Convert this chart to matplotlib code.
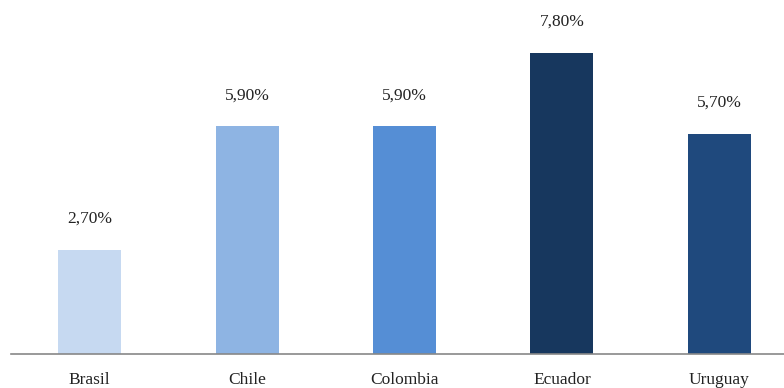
import matplotlib
matplotlib.use("Agg")
import matplotlib.pyplot as plt

countries = ["Brasil", "Chile", "Colombia", "Ecuador", "Uruguay"]
rates = [2.7, 5.9, 5.9, 7.8, 5.7]
labels = ["2,70%", "5,90%", "5,90%", "7,80%", "5,70%"]
colors = ["#c6d9f1", "#8eb4e3", "#558ed5", "#17375e", "#1f497d"]

plt.rcParams["font.family"] = ["Liberation Serif", "DejaVu Serif"]

fig = plt.figure(figsize=(7.84, 3.88), dpi=100)
ax = fig.add_axes([11 / 784, 34 / 388, 773 / 784, 354 / 388])

x = list(range(len(countries)))
ax.bar(x, rates, width=0.4, color=colors)

for xi, r, lab in zip(x, rates, labels):
    ax.text(xi, r + 0.8, lab, ha="center", va="center", fontsize=12.5, color="#222222")

ax.set_xlim(-0.499, 4.41)
ax.set_ylim(0, 9.17)
ax.set_xticks(x)
ax.set_xticklabels(countries, fontsize=12.5, color="#222222")
ax.tick_params(axis="x", length=0, pad=13)
ax.set_yticks([])
for side in ["top", "right", "left"]:
    ax.spines[side].set_visible(False)
ax.spines["bottom"].set_color("#888888")
ax.spines["bottom"].set_linewidth(1.2)

fig.savefig("out.png", dpi=100)
